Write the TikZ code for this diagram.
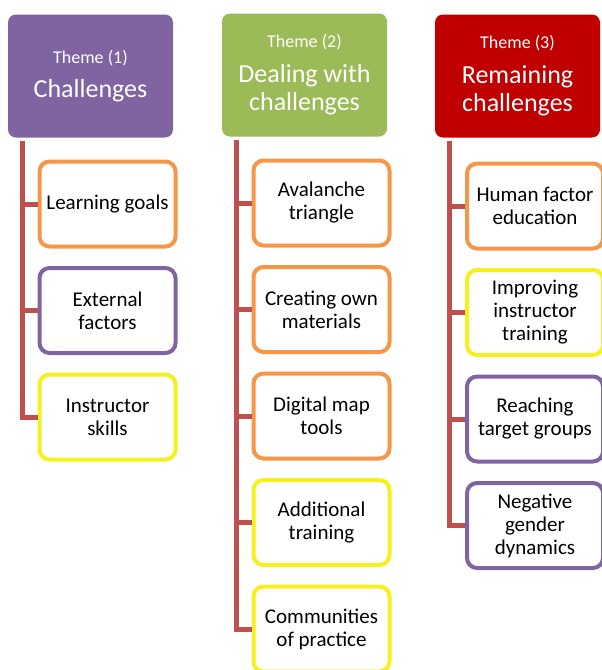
\documentclass[tikz,border=0pt]{standalone}
\usepackage{fontspec}
\setmainfont{Carlito}
\usetikzlibrary{positioning}
\definecolor{themepurple}{HTML}{8064A2}
\definecolor{themegreen}{HTML}{9BBB59}
\definecolor{themered}{HTML}{C00000}
\definecolor{lineorange}{HTML}{F79646}
\definecolor{linepurple}{HTML}{8064A2}
\definecolor{lineyellow}{RGB}{245,240,30}
\definecolor{trunkred}{HTML}{C0504D}
\begin{document}
\begin{tikzpicture}[x=1pt,y=1pt,
    theme/.style={fill=#1,rounded corners=8pt,minimum width=165pt,minimum height=123pt,
        inner sep=0pt,outer sep=0pt,text=white,align=center,font=\fontsize{26}{28.5}\selectfont},
    leaf/.style={draw=#1,fill=white,line width=4pt,rounded corners=10pt,minimum width=136pt,
        minimum height=85pt,inner sep=0pt,outer sep=0pt,align=center,font=\fontsize{21}{23}\selectfont},
    trunk/.style={draw=trunkred,line width=5pt},
    node distance=21.5pt]
    \useasboundingbox (0,0) rectangle (602,-670);

    % Theme (1)
    \node[theme=themepurple] (T1) at (90.5,-76) {{\fontsize{18}{20}\selectfont Theme (1)}\\[6pt]Challenges};
    \node[leaf=lineorange,below=24pt of T1.south,xshift=17pt] (T1a) {Learning goals};
    \node[leaf=linepurple,below=of T1a] (T1b) {External\\factors};
    \node[leaf=lineyellow,below=of T1b] (T1c) {Instructor\\skills};

    % Theme (2)
    \node[theme=themegreen] (T2) at (304.5,-75) {{\fontsize{18}{20}\selectfont Theme (2)}\\[6pt]Dealing with\\challenges};
    \node[leaf=lineorange,below=24pt of T2.south,xshift=17pt] (T2a) {Avalanche\\triangle};
    \node[leaf=lineorange,below=of T2a] (T2b) {Creating own\\materials};
    \node[leaf=lineorange,below=of T2b] (T2c) {Digital map\\tools};
    \node[leaf=lineyellow,below=of T2c] (T2d) {Additional\\training};
    \node[leaf=lineyellow,below=of T2d] (T2e) {Communities\\of practice};

    % Theme (3)
    \node[theme=themered] (T3) at (517.5,-76) {{\fontsize{18}{20}\selectfont Theme (3)}\\[6pt]Remaining\\challenges};
    \node[leaf=lineorange,below=26pt of T3.south,xshift=17.5pt] (T3a) {Human factor\\education};
    \node[leaf=lineyellow,below=of T3a] (T3b) {Improving\\instructor\\training};
    \node[leaf=linepurple,below=of T3b] (T3c) {Reaching\\target groups};
    \node[leaf=linepurple,below=of T3c] (T3d) {Negative\\gender\\dynamics};

    % connectors
    \draw[trunk] ([xshift=14pt,yshift=-3pt]T1.south west) |- ([xshift=-2pt]T1a.west);
    \draw[trunk] ([xshift=14pt,yshift=-3pt]T1.south west) |- ([xshift=-2pt]T1b.west);
    \draw[trunk] ([xshift=14pt,yshift=-3pt]T1.south west) |- ([xshift=-2pt]T1c.west);
    \draw[trunk] ([xshift=14pt,yshift=-3pt]T2.south west) |- ([xshift=-2pt]T2a.west);
    \draw[trunk] ([xshift=14pt,yshift=-3pt]T2.south west) |- ([xshift=-2pt]T2b.west);
    \draw[trunk] ([xshift=14pt,yshift=-3pt]T2.south west) |- ([xshift=-2pt]T2c.west);
    \draw[trunk] ([xshift=14pt,yshift=-3pt]T2.south west) |- ([xshift=-2pt]T2d.west);
    \draw[trunk] ([xshift=14pt,yshift=-3pt]T2.south west) |- ([xshift=-2pt]T2e.west);
    \draw[trunk] ([xshift=14pt,yshift=-3pt]T3.south west) |- ([xshift=-2pt]T3a.west);
    \draw[trunk] ([xshift=14pt,yshift=-3pt]T3.south west) |- ([xshift=-2pt]T3b.west);
    \draw[trunk] ([xshift=14pt,yshift=-3pt]T3.south west) |- ([xshift=-2pt]T3c.west);
    \draw[trunk] ([xshift=14pt,yshift=-3pt]T3.south west) |- ([xshift=-2pt]T3d.west);
\end{tikzpicture}
\end{document}
